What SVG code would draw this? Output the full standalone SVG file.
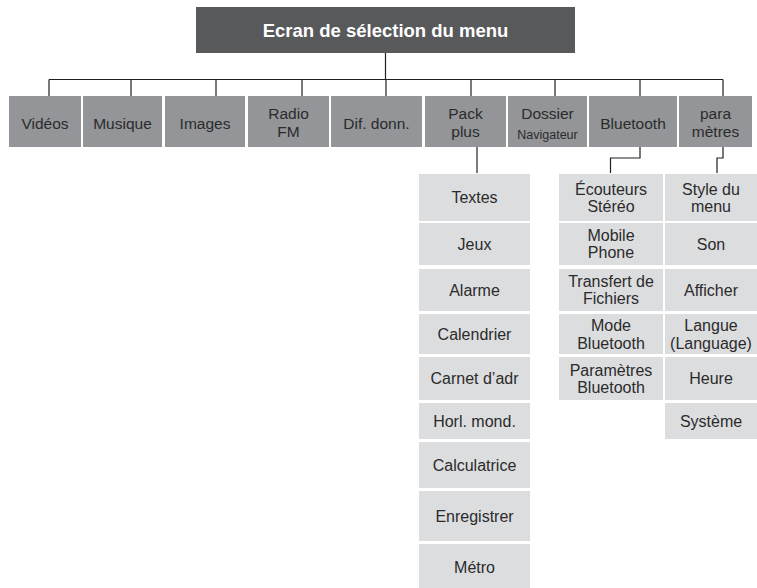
<svg xmlns="http://www.w3.org/2000/svg" width="757" height="588" viewBox="0 0 757 588">
<style>
text{font-family:"Liberation Sans",Arial,sans-serif;text-anchor:middle;fill:#2b2b2b}
.top{fill:#58595b}
.title{fill:#ffffff;font-weight:bold;font-size:18.5px}
.l1{fill:#939598}
.l1 text,.t1{font-size:15.5px}
.sm{font-size:12.5px}
.sub{fill:#dcdddf}
.t2{font-size:16px}
.conn{fill:none;stroke:#231f20;stroke-width:1.2}
</style>
<rect width="757" height="588" fill="#ffffff"/>
<g id="connectors" class="conn">
<path d="M385.5 53V79.5M49 79.5H723M49 79.5V96M131 79.5V96M216 79.5V96M302 79.5V96M386 79.5V96M471 79.5V96M555 79.5V96M640 79.5V96M723 79.5V96"/>
<path d="M477 147V173"/>
<path d="M640 147V158H610.5V173"/>
<path d="M723 147V158H717V173"/>
</g>
<g id="root"><rect class="top" x="196" y="7" width="379" height="46"/><text class="title" x="385.5" y="37">Ecran de sélection du menu</text></g>
<g id="videos"><rect class="l1" x="9" y="96" width="72" height="51"/><text class="t1" x="45" y="128.5">Vidéos</text></g>
<g id="musique"><rect class="l1" x="83" y="96" width="79" height="51"/><text class="t1" x="122.5" y="128.5">Musique</text></g>
<g id="images"><rect class="l1" x="165" y="96" width="80" height="51"/><text class="t1" x="205" y="128.5">Images</text></g>
<g id="radio"><rect class="l1" x="248" y="96" width="81" height="51"/><text class="t1" x="288.5" y="119">Radio</text><text class="t1" x="288.5" y="136.5">FM</text></g>
<g id="dif"><rect class="l1" x="331" y="96" width="91" height="51"/><text class="t1" x="376.5" y="128.5">Dif. donn.</text></g>
<g id="pack"><rect class="l1" x="425" y="96" width="81" height="51"/><text class="t1" x="465.5" y="119">Pack</text><text class="t1" x="465.5" y="136.5">plus</text></g>
<g id="dossier"><rect class="l1" x="508" y="96" width="79" height="51"/><text class="t1" x="547.5" y="119">Dossier</text><text class="sm" x="547.5" y="138.5">Navigateur</text></g>
<g id="bluetooth"><rect class="l1" x="589" y="96" width="88" height="51"/><text class="t1" x="633" y="128.5">Bluetooth</text></g>
<g id="parametres"><rect class="l1" x="679" y="96" width="73" height="51"/><text class="t1" x="715.5" y="119">para</text><text class="t1" x="715.5" y="136.5">mètres</text></g>

<g id="textes"><rect class="sub" x="419" y="174" width="111" height="47"/><text class="t2" x="474.5" y="203.3">Textes</text></g>
<g id="jeux"><rect class="sub" x="419" y="223" width="111" height="42"/><text class="t2" x="474.5" y="249.8">Jeux</text></g>
<g id="alarme"><rect class="sub" x="419" y="269" width="111" height="42"/><text class="t2" x="474.5" y="295.8">Alarme</text></g>
<g id="calendrier"><rect class="sub" x="419" y="314" width="111" height="40"/><text class="t2" x="474.5" y="339.8">Calendrier</text></g>
<g id="carnet"><rect class="sub" x="419" y="357" width="111" height="43"/><text class="t2" x="474.5" y="384.3">Carnet d’adr</text></g>
<g id="horloge"><rect class="sub" x="419" y="403" width="111" height="36"/><text class="t2" x="474.5" y="426.8">Horl. mond.</text></g>
<g id="calculatrice"><rect class="sub" x="419" y="442" width="111" height="46"/><text class="t2" x="474.5" y="470.8">Calculatrice</text></g>
<g id="enregistrer"><rect class="sub" x="419" y="491" width="111" height="50"/><text class="t2" x="474.5" y="521.8">Enregistrer</text></g>
<g id="metro"><rect class="sub" x="419" y="544" width="111" height="44"/><text class="t2" x="474.5" y="572.5">Métro</text></g>

<g id="ecouteurs"><rect class="sub" x="559" y="174" width="104" height="47"/><text class="t2" x="611" y="194.5">Écouteurs</text><text class="t2" x="611" y="212">Stéréo</text></g>
<g id="mobile"><rect class="sub" x="559" y="223" width="104" height="42"/><text class="t2" x="611" y="240.5">Mobile</text><text class="t2" x="611" y="258">Phone</text></g>
<g id="transfert"><rect class="sub" x="559" y="269" width="104" height="42"/><text class="t2" x="611" y="286.5">Transfert de</text><text class="t2" x="611" y="304">Fichiers</text></g>
<g id="mode"><rect class="sub" x="559" y="314" width="104" height="40"/><text class="t2" x="611" y="331">Mode</text><text class="t2" x="611" y="348.5">Bluetooth</text></g>
<g id="parambt"><rect class="sub" x="559" y="357" width="104" height="43"/><text class="t2" x="611" y="375.5">Paramètres</text><text class="t2" x="611" y="393">Bluetooth</text></g>

<g id="style"><rect class="sub" x="665" y="174" width="92" height="47"/><text class="t2" x="711" y="194.5">Style du</text><text class="t2" x="711" y="212">menu</text></g>
<g id="son"><rect class="sub" x="665" y="223" width="92" height="42"/><text class="t2" x="711" y="249.8">Son</text></g>
<g id="afficher"><rect class="sub" x="665" y="269" width="92" height="42"/><text class="t2" x="711" y="295.8">Afficher</text></g>
<g id="langue"><rect class="sub" x="665" y="314" width="92" height="40"/><text class="t2" x="711" y="331">Langue</text><text class="t2" x="711" y="348.5">(Language)</text></g>
<g id="heure"><rect class="sub" x="665" y="357" width="92" height="43"/><text class="t2" x="711" y="384.3">Heure</text></g>
<g id="systeme"><rect class="sub" x="665" y="403" width="92" height="36"/><text class="t2" x="711" y="426.8">Système</text></g>
</svg>
